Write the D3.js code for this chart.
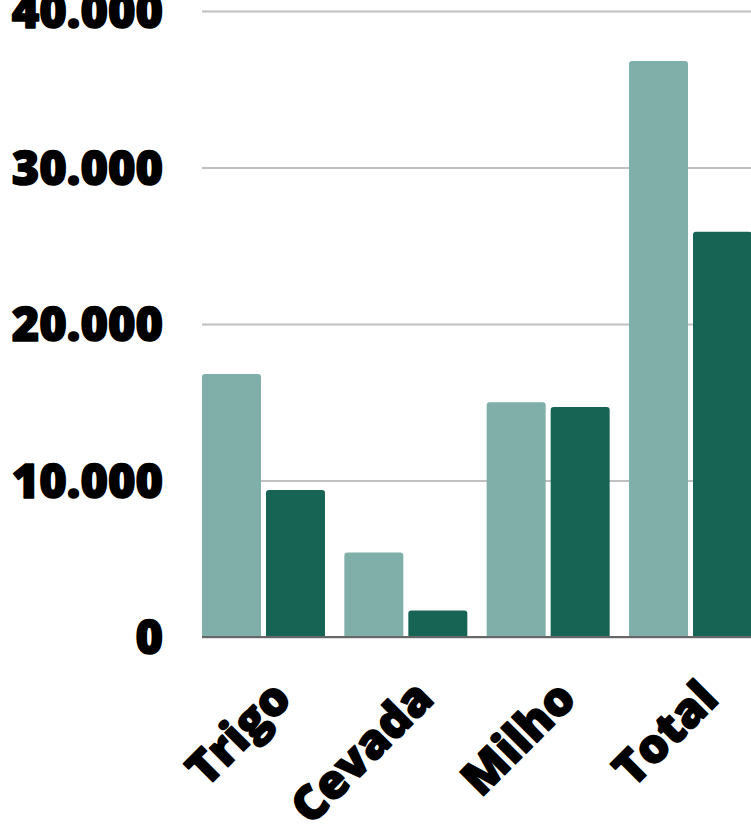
<!DOCTYPE html>
<html>
<head>
<meta charset="utf-8">
<script src="https://cdn.jsdelivr.net/npm/d3@7"></script>
<style>
  html, body { margin: 0; padding: 0; background: #ffffff; }
  svg { display: block; }
  text { font-family: "Open Sans", sans-serif; font-weight: 800; fill: #000; }
</style>
</head>
<body>
<svg id="chart" width="751" height="824"></svg>
<script>
// Grain production by crop, two series per category
const categories = ["Trigo", "Cevada", "Milho", "Total"];
const seriesNames = ["serieA", "serieB"];
const serieA = [16800, 5400, 15000, 36800];
const serieB = [9400, 1700, 14700, 25900];
const yTicks = [0, 10000, 20000, 30000, 40000];
const colors = ["#7fafa8", "#176354"];

(function draw() {
  const svg = d3.select("#chart");
  const W = 751;
  const plotLeft = 202, plotTop = 11, plotBottom = 637;

  const x0 = d3.scaleBand().domain(categories).range([plotLeft, 752])
    .paddingInner(0.136).paddingOuter(0);
  const x1 = d3.scaleBand().domain(seriesNames).range([0, x0.bandwidth()])
    .paddingInner(0.078).paddingOuter(0);
  const y = d3.scaleLinear().domain([0, 40000]).range([plotBottom, plotTop]);

  const fmt = v => d3.format(",")(v).replace(/,/g, ".");

  // heavy label style (outline thickens the glyphs)
  function heavy(sel) {
    sel.attr("font-size", 47)
      .style("font-family", "'Open Sans', sans-serif").style("font-weight", 800)
      .attr("fill", "#000").attr("stroke", "#000").attr("stroke-width", 1.6)
      .attr("stroke-linejoin", "round");
  }

  // horizontal gridlines and value labels
  const yAxis = d3.axisLeft(y).tickValues(yTicks).tickSize(-(W - plotLeft)).tickFormat(fmt).tickPadding(39);
  const gy = svg.append("g").attr("transform", `translate(${plotLeft},0)`).call(yAxis);
  gy.select(".domain").remove();
  gy.selectAll(".tick line").attr("stroke", "#c0c0c0").attr("stroke-width", 2);
  gy.selectAll(".tick text").call(heavy).attr("dy", "0.36em");

  // bars with slightly rounded tops
  const rows = categories.map((c, i) => ({ cat: c, vals: [serieA[i], serieB[i]] }));
  const r = 3;
  function topRounded(xp, yp, w, h) {
    return `M${xp},${yp + h}V${yp + r}Q${xp},${yp} ${xp + r},${yp}H${xp + w - r}Q${xp + w},${yp} ${xp + w},${yp + r}V${yp + h}Z`;
  }
  const groups = svg.append("g").selectAll("g").data(rows).join("g")
    .attr("transform", d => `translate(${x0(d.cat)},0)`);
  groups.selectAll("path").data(d => d.vals.map((v, k) => ({ v, k })))
    .join("path")
    .attr("fill", d => colors[d.k])
    .attr("d", d => topRounded(x1(seriesNames[d.k]), y(d.v), x1.bandwidth(), plotBottom - y(d.v)));

  // baseline
  svg.append("line").attr("x1", plotLeft).attr("x2", W).attr("y1", y(0)).attr("y2", y(0))
    .attr("stroke", "#666666").attr("stroke-width", 2);

  // rotated category labels
  const xAxis = d3.axisBottom(x0).tickSize(0).tickPadding(0);
  const gx = svg.append("g").attr("transform", `translate(0,${plotBottom})`).call(xAxis);
  gx.select(".domain").remove();
  gx.selectAll(".tick text").call(heavy)
    .attr("text-anchor", "end").attr("dy", 0)
    .attr("transform", "translate(30,64) rotate(-45)");
})();
</script>
</body>
</html>
